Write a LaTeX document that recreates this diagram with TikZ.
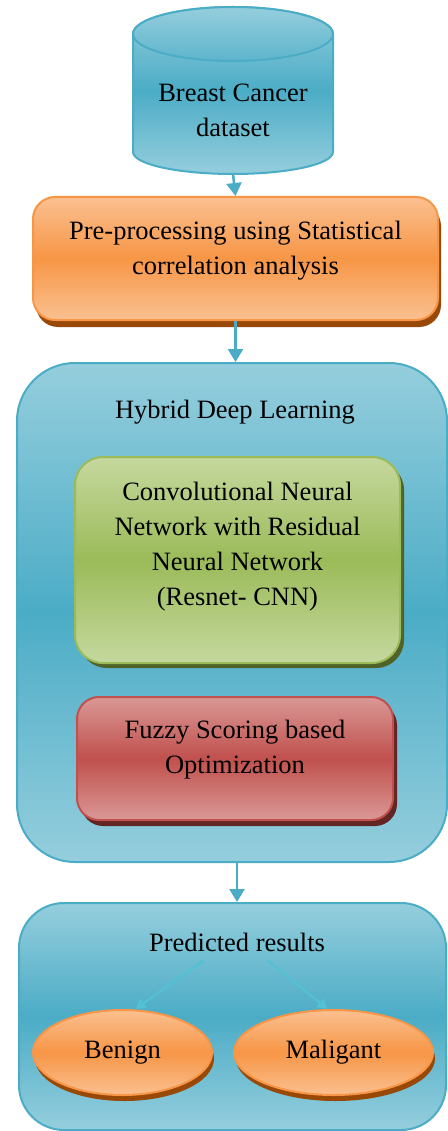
\documentclass[tikz,border=0pt]{standalone}
\usepackage{fontspec}
\setmainfont{Liberation Serif}
\usetikzlibrary{shapes.geometric,shadows,arrows.meta}
\definecolor{aqua}{HTML}{4BACC6}
\definecolor{aqualt}{HTML}{95CEDD}
\definecolor{orng}{HTML}{F79646}
\definecolor{ornglt}{HTML}{FAC090}
\definecolor{orngdk}{HTML}{984807}
\definecolor{grn}{HTML}{9BBB59}
\definecolor{grnlt}{HTML}{C5D89E}
\definecolor{grndk}{HTML}{4F6228}
\definecolor{rd}{HTML}{C0504D}
\definecolor{rdlt}{HTML}{DA9896}
\definecolor{rddk}{HTML}{632523}
\tikzset{
	txt/.style={font=\fontsize{26.5}{35}\selectfont, align=center, text=black},
	aquafill/.style={top color=aqualt, bottom color=aqualt, middle color=aqua},
	bigbox/.style={draw=aqua, line width=2pt, rounded corners=58pt, aquafill},
	orngbox/.style={txt, draw=orng, line width=2pt, rounded corners=22pt,
		top color=ornglt, bottom color=ornglt, middle color=orng,
		drop shadow={shadow xshift=3pt, shadow yshift=-7pt, fill=orngdk, opacity=1}},
	grnbox/.style={txt, draw=grn, line width=2pt, rounded corners=28pt,
		top color=grnlt, bottom color=grnlt, middle color=grn,
		drop shadow={shadow xshift=4pt, shadow yshift=-5pt, fill=grndk, opacity=1}},
	rdbox/.style={txt, draw=rd, line width=2pt, rounded corners=22pt,
		top color=rdlt, bottom color=rdlt, middle color=rd,
		drop shadow={shadow xshift=4pt, shadow yshift=-6pt, fill=rddk, opacity=1}},
	outcome/.style={txt, ellipse, draw=orng, line width=2pt,
		top color=ornglt, bottom color=ornglt, middle color=orng,
		drop shadow={shadow xshift=2pt, shadow yshift=-6pt, fill=orngdk, opacity=1}},
	flow/.style={draw=aqua, line width=2.5pt, -{Triangle[width=15pt,length=13pt]}},
	thinflow/.style={draw=aqua!85!cyan!90!white, line width=2.5pt, -{Triangle[width=11pt,length=10pt]}}
}
\begin{document}
\begin{tikzpicture}[x=1pt,y=-1pt]
	\useasboundingbox (0,0) rectangle (447,1131);
	% input data (cylinder)
	\path[draw=aqua, line width=2pt, aquafill] (133,34) -- (133,152)
		arc[start angle=180, end angle=0, x radius=100, y radius=22] -- (333,34)
		arc[start angle=0, end angle=-180, x radius=100, y radius=27] -- cycle;
	\path[draw=aqua, line width=2pt, top color=aqualt, bottom color=aqua!75!aqualt] (233,34) ellipse[x radius=100, y radius=27];
	\node[txt] (data) at (233,110) {Breast Cancer\\dataset};
	\coordinate (database) at (233,174);
	% pre-processing
	\node[orngbox, minimum width=405pt, minimum height=123pt, text depth=22pt] (pre) at (235.5,258.5)
		{Pre-processing using Statistical\\correlation analysis};
	% hybrid model
	\node[bigbox, minimum width=430pt, minimum height=499pt] (hybrid) at (232,612.5) {};
	\node[txt] (hybridtxt) at (235,412) {Hybrid Deep Learning};
	\node[grnbox, minimum width=325pt, minimum height=206pt, text depth=33pt] (cnn) at (237.5,560)
		{Convolutional Neural\\Network with Residual\\Neural Network\\(Resnet- CNN)};
	\node[rdbox, minimum width=316pt, minimum height=123pt, text depth=24pt] (fuzzy) at (235,758.5)
		{Fuzzy Scoring based\\Optimization};
	% results
	\node[bigbox, rounded corners=45pt, minimum width=427pt, minimum height=227pt] (pred) at (232.5,1016.5) {};
	\node[txt] (predtxt) at (237,942) {Predicted results};
	\node[outcome, minimum width=179pt, minimum height=85pt] (benign) at (122.5,1052.5) {Benign};
	\node[outcome, minimum width=199pt, minimum height=85pt] (malig) at (333.5,1052.5) {Maligant};
	% connectors
	\draw[flow] (database) -- (pre.north);
	\draw[flow] (pre.south) -- (hybrid.north -| pre.south);
	\draw[flow] (hybrid.south -| predtxt) -- (pred.north -| predtxt);
	\draw[thinflow] ([xshift=-34pt,yshift=-6pt]predtxt.south) -- ([xshift=13pt]benign.north);
	\draw[thinflow] ([xshift=31pt,yshift=-6pt]predtxt.south) -- ([xshift=-6pt]malig.north);
\end{tikzpicture}
\end{document}
